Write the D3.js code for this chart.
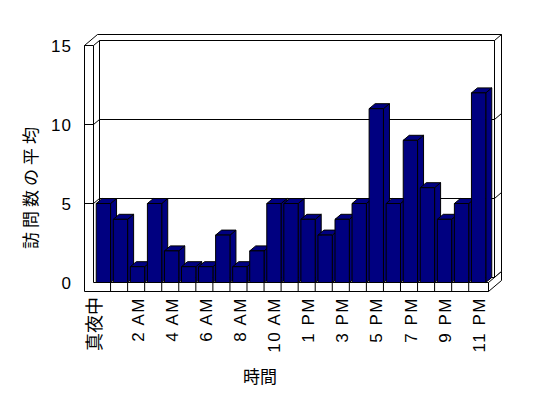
<!DOCTYPE html>
<html><head><meta charset="utf-8">
<script src="https://cdn.jsdelivr.net/npm/d3@7"></script>
<style>body{margin:0;background:#fff}svg{display:block}</style>
</head><body>
<script>
const categories = ["真夜中","1 AM","2 AM","3 AM","4 AM","5 AM","6 AM","7 AM","8 AM","9 AM","10 AM","11 AM",
  "1 PM","2 PM","3 PM","4 PM","5 PM","6 PM","7 PM","8 PM","9 PM","10 PM","11 PM"];
const values = [5,4,1,5,2,1,1,3,1,2,5,5,4,3,4,5,11,5,9,6,4,5,12];
const yTicks = [0,5,10,15];
const xTitle = "時間";
const yTitle = "訪問数の平均";

const W = 548, H = 398;
const svg = d3.select("body").append("svg").attr("width", W).attr("height", H);
const x = d3.scaleBand().domain(categories).range([93.5, 488.5]).padding(0.16);
const y = d3.scaleLinear().domain([0, 15]).range([282.5, 45.5]);
const D = [6, -5];     // depth of floor / bars
const T = [7, -6];     // wall thickness in depth
const wallL = 84.5, floorB = 291.5;
const X0 = x.range()[0], X1 = x.range()[1];
const Y0 = y(0), Ytop = y(15);
const line = (pts) => "M" + pts.map(p => p.join(",")).join("L");
const g = svg.append("g").attr("fill", "none").attr("stroke", "#000").attr("stroke-width", 1);

// left wall + floor front L-shape
g.append("path").attr("fill", "#fff").attr("d",
  line([[wallL, Ytop], [X0, Ytop], [X0, Y0], [X1, Y0], [X1, floorB], [wallL, floorB]]) + "Z");
// wall top faces
const bk = [D[0] + T[0], D[1] + T[1]];
g.append("path").attr("fill", "#fff").attr("d",
  line([[wallL, Ytop], [wallL + bk[0], Ytop + bk[1]], [X1 + bk[0], Ytop + bk[1]], [X1 + bk[0], Y0 + bk[1]],
        [X1 + D[0], Y0 + D[1]], [X1 + D[0], Ytop + D[1]], [X0 + D[0], Ytop + D[1]], [X0, Ytop]]) + "Z");
// back wall inner face edges
g.append("path").attr("d", line([[X0 + D[0], Ytop + D[1]], [X0 + D[0], Y0 + D[1]]]));
g.append("path").attr("d", line([[X1 + D[0], Ytop + D[1]], [X1 + D[0], Y0 + D[1]]]));
g.append("path").attr("d", line([[X1 + D[0], Ytop + D[1]], [X1 + bk[0], Ytop + bk[1]]]));
// floor right side
g.append("path").attr("fill", "#fff").attr("d",
  line([[X1, Y0], [X1 + bk[0], Y0 + bk[1]], [X1 + bk[0], floorB + bk[1]], [X1, floorB]]) + "Z");
// floor back edge
g.append("path").attr("d", line([[X0 + D[0], Y0 + D[1]], [X1 + D[0], Y0 + D[1]]]));

// gridlines with ticks across wall thickness
yTicks.filter(t => t > 0 && t < 15).forEach(t => {
  const yy = y(t);
  g.append("path").attr("d", line([[wallL, yy], [X0, yy], [X0 + D[0], yy + D[1]], [X1 + D[0], yy + D[1]], [X1 + bk[0], yy + bk[1]]]));
});
// category ticks on floor front
categories.forEach((c, i) => {
  if (i === 0) return;
  const xx = X0 + i * x.step();
  g.append("path").attr("d", line([[xx, Y0], [xx, floorB]]));
});

// bars
const bw = x.bandwidth();
values.forEach((v, i) => {
  const xl = x(categories[i]), xr = xl + bw, yt = y(v);
  const bg = svg.append("g").attr("fill", "#000080").attr("stroke", "#000").attr("stroke-width", 1).attr("stroke-linejoin", "round");
  bg.append("path").attr("d", line([[xr, yt], [xr + D[0], yt + D[1]], [xr + D[0], Y0 + D[1]], [xr, Y0]]) + "Z");
  bg.append("path").attr("d", line([[xl, yt], [xl + D[0], yt + D[1]], [xr + D[0], yt + D[1]], [xr, yt]]) + "Z");
  bg.append("rect").attr("x", xl).attr("y", yt).attr("width", bw).attr("height", Y0 - yt);
});

// y tick labels
svg.append("g").selectAll("text").data(yTicks).join("text")
  .attr("x", 72).attr("y", d => y(d)).attr("dy", "0.36em").attr("text-anchor", "end")
  .attr("font-family", "Liberation Sans, Arial, sans-serif").attr("font-size", 17)
  .attr("letter-spacing", 1)
  .text(d => d);

// x tick labels (every other)
const isLatin = d => /[A-Z]/.test(d);
svg.append("g").selectAll("text").data(categories.filter((c, i) => i % 2 === 0)).join("text")
  .attr("transform", d => `translate(${x(d) + bw / 2 + (isLatin(d) ? 0 : -9)},297) rotate(-90)`)
  .attr("dy", "0.36em").attr("text-anchor", "end")
  .attr("font-family", "Liberation Sans, Noto Sans CJK JP, sans-serif")
  .attr("letter-spacing", d => isLatin(d) ? 1.5 : 0)
  .style("font-size", d => isLatin(d) ? "17px" : "18px")
  .text(d => d);

// titles
svg.append("text").attr("x", 260).attr("y", 383).attr("text-anchor", "middle")
  .attr("font-family", "Noto Sans CJK JP, sans-serif").attr("font-size", 17).text(xTitle);
svg.append("text").attr("transform", "translate(31,186) rotate(-90)").attr("dy", "0.36em").attr("text-anchor", "middle")
  .attr("font-family", "Noto Sans CJK JP, sans-serif").attr("font-size", 17).attr("letter-spacing", 4).text(yTitle);
</script>
</body></html>
